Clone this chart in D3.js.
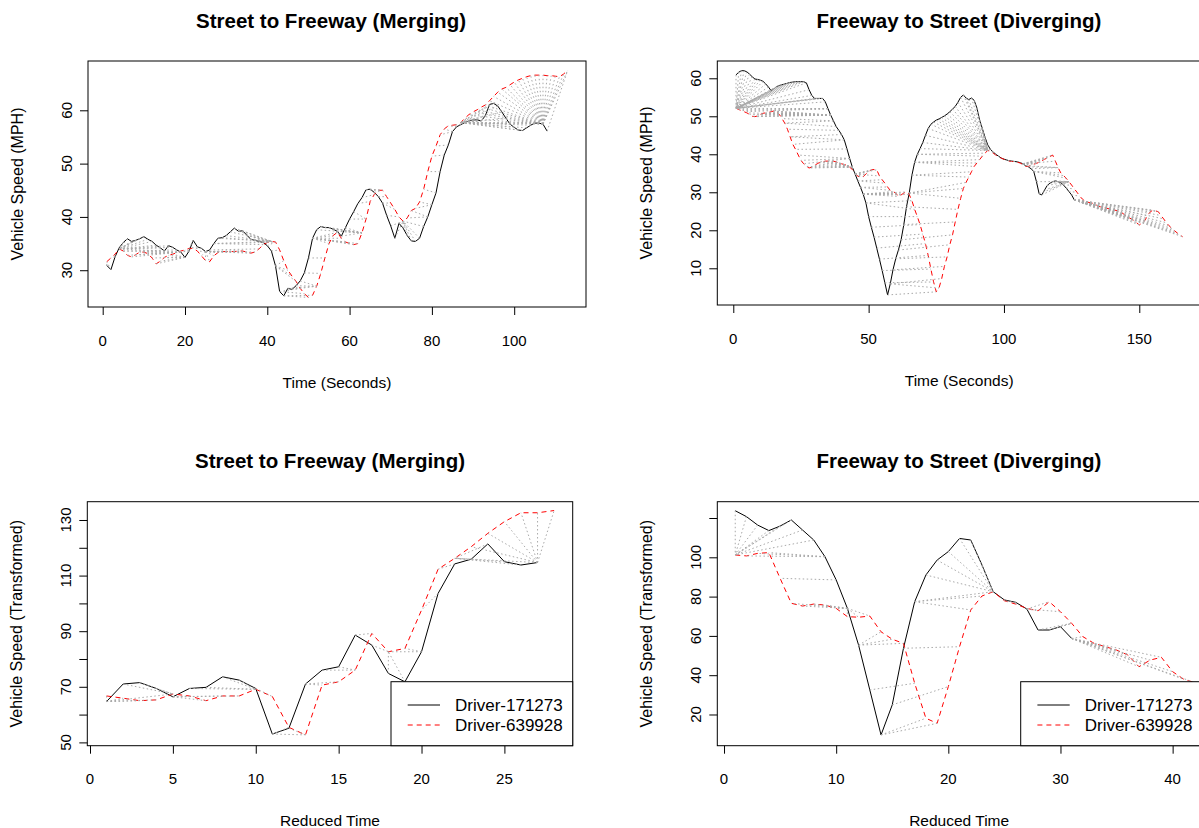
<!DOCTYPE html>
<html><head><meta charset="utf-8">
<script src="https://cdn.jsdelivr.net/npm/d3@7"></script>
<style>body{margin:0;background:#fff} text{font-family:"Liberation Sans",Arial,sans-serif;fill:#000}</style>
</head><body>
<svg id="c" width="1199" height="828"></svg>
<script>
// ---------- data ----------
const seriesNames = ["Driver-171273", "Driver-639928"];
const panelTitles = ["Street to Freeway (Merging)", "Freeway to Street (Diverging)", "Street to Freeway (Merging)", "Freeway to Street (Diverging)"];
const xLabels = ["Time (Seconds)", "Time (Seconds)", "Reduced Time", "Reduced Time"];
const yLabels = ["Vehicle Speed (MPH)", "Vehicle Speed (MPH)", "Vehicle Speed (Transformed)", "Vehicle Speed (Transformed)"];

const mergeBlack = [30.9,30.1,32.5,34.2,35.2,35.9,35.4,35.6,35.9,36.3,35.8,35.4,34.7,34.2,33.6,34.6,34.3,33.8,33.4,32.4,
33.6,35.6,34.4,34.1,33.5,33.8,35.0,36.0,36.1,36.5,37.2,37.9,37.3,37.4,36.6,35.8,35.6,35.4,35.2,34.6,
33.6,30.8,26.0,25.2,26.6,26.4,27.1,28.0,29.5,32.3,36.0,37.6,38.2,38.0,38.0,37.7,37.3,36.4,38.0,39.6,
41.0,42.5,43.6,45.1,45.2,44.6,43.8,42.6,40.3,38.3,36.0,38.8,37.9,36.5,35.5,35.4,36.0,38.2,40.0,42.3,
44.5,48.5,51.6,53.5,56.0,56.9,57.3,57.7,58.0,58.2,58.2,58.0,59.0,61.1,61.3,60.8,59.7,58.5,57.4,56.8,
56.3,56.2,56.7,57.2,57.6,57.6,57.4,56.1];
const mergeRed = [31.6,32.3,33.0,34.0,33.6,32.8,32.5,32.9,33.4,33.4,33.1,32.3,31.2,31.7,32.4,32.8,33.0,33.3,33.6,33.8,
34.1,34.1,33.6,32.7,31.8,31.6,32.7,33.3,33.5,33.5,33.5,33.5,33.6,33.6,33.4,33.2,33.4,34.0,34.8,35.2,
35.4,35.3,33.8,31.8,30.0,28.9,27.9,26.6,25.6,24.9,25.3,27.0,29.4,32.3,35.0,36.5,37.1,36.0,35.3,35.0,
34.8,35.0,37.0,39.6,42.9,44.2,45.0,45.0,43.8,42.6,41.4,40.0,39.2,39.8,41.2,41.6,42.8,45.2,48.5,51.4,
53.3,55.4,56.5,57.1,57.2,57.3,57.7,58.5,59.2,59.7,60.1,60.6,61.0,61.8,62.6,63.4,64.0,64.3,64.8,65.3,
65.7,66.0,66.3,66.5,66.6,66.6,66.6,66.5,66.5,66.4,66.3,66.8,67.5];

const divergeBlack = [60.9,61.6,62.0,62.0,61.7,61.1,60.4,59.8,59.7,59.5,59.2,58.5,57.7,56.7,57.2,57.8,58.1,58.3,58.5,58.7,
58.9,59.0,59.1,59.1,59.1,59.1,58.8,57.0,55.5,54.7,54.7,54.7,54.7,53.8,52.0,50.3,48.8,47.3,46.3,45.2,
43.8,41.4,38.9,36.6,34.8,33.0,31.3,29.5,27.2,23.6,20.8,18.2,15.3,12.4,9.4,6.2,3.0,5.9,9.6,12.5,
14.8,17.5,21.5,26.2,29.8,34.5,37.9,40.0,41.5,43.1,45.0,46.8,47.9,48.5,49.0,49.3,49.7,50.1,50.6,51.2,
51.9,52.6,53.7,55.0,55.6,54.8,54.4,54.8,54.2,52.2,49.0,46.8,44.5,42.5,41.3,40.6,40.0,39.5,39.0,38.7,
38.5,38.3,38.2,38.1,38.0,37.8,37.5,37.0,36.7,36.2,35.5,32.8,29.6,29.3,30.6,31.8,32.4,32.8,33.0,32.8,
32.5,31.9,31.1,30.2,29.3,28.0];
const divergeRed = [52.1,51.8,51.5,51.2,50.9,50.5,50.0,49.9,50.1,50.5,50.8,50.9,51.0,51.2,51.4,51.3,50.5,49.4,48.2,46.6,
44.6,42.6,41.3,39.8,38.4,37.5,36.8,36.4,36.6,37.1,37.5,37.9,38.0,38.2,38.2,38.2,38.2,38.0,37.7,37.5,
37.3,37.1,36.6,36.0,35.2,34.2,34.0,34.1,34.8,35.5,35.9,36.0,35.9,34.3,33.3,32.4,31.4,30.5,30.2,29.8,
28.9,29.3,29.8,30.1,29.4,27.8,25.5,23.6,21.5,19.0,16.5,13.4,9.8,6.4,3.8,4.8,7.3,10.5,13.0,16.2,
18.8,22.2,25.5,28.4,31.0,32.6,34.0,35.4,36.8,37.7,38.6,39.5,40.3,41.0,40.8,40.3,39.8,39.3,39.0,38.7,
38.4,38.2,38.1,38.1,37.9,37.7,37.3,36.8,36.8,37.1,37.4,37.6,37.9,38.3,38.7,39.0,39.4,39.8,38.2,36.5,
35.1,34.4,33.7,32.8,31.9,30.9,30.0,29.0,28.2,27.6,27.4,27.2,27.1,26.7,26.3,26.1,25.9,25.8,25.6,25.4,
25.3,25.1,24.9,24.4,23.8,23.4,23.0,22.6,22.0,21.4,21.9,22.5,23.8,24.8,25.3,25.1,24.9,23.9,23.0,22.0,
21.2,20.5,19.9,19.3,18.8,18.3];

const mergeBlackReduced = [64.7,71.0,71.5,69.4,66.4,69.4,69.8,73.6,72.4,69.4,53.0,55.1,71.0,76.0,77.2,88.6,85.0,74.8,71.8,82.6,
103.6,114.2,115.9,121.4,115.0,113.8,114.7];
const mergeRedReduced = [66.7,65.9,65.0,65.3,67.4,66.7,65.0,66.7,66.7,69.1,66.5,55.4,52.7,70.6,71.8,76.0,89.2,82.6,83.8,97.6,
112.3,116.2,120.4,125.2,129.4,132.6,132.6,133.4];
const divergeBlackReduced = [123.7,120.7,116.4,113.6,115.9,119.0,113.9,108.8,100.3,88.5,74.0,55.3,32.5,9.6,24.9,53.7,77.4,91.0,98.6,102.9,
109.6,108.8,96.1,82.5,78.3,77.1,73.7,63.0,63.0,64.7,58.7];
const divergeRedReduced = [101.2,100.7,102.0,102.4,89.3,76.6,75.2,76.2,75.7,74.0,69.8,69.5,70.1,62.1,58.3,56.2,35.9,18.1,15.5,34.2,
54.5,73.2,80.3,82.5,77.9,76.2,74.0,72.8,77.4,72.3,66.4,59.6,56.2,54.5,52.8,50.3,44.3,47.7,49.1,41.8,
37.9,36.2];

const xTicks = [[0,20,40,60,80,100],[0,50,100,150],[0,5,10,15,20,25],[0,10,20,30,40]];
const yTicks = [[30,40,50,60],[10,20,30,40,50,60],[50,60,70,80,90,100,110,120,130],[20,40,60,80,100,120]];
const yTickLabels = [[30,40,50,60],[10,20,30,40,50,60],[50,70,90,110,130],[20,40,60,80,100]];

// ---------- layout ----------
const layout = [
  {box:[88,586,61,307],   xd:[-3.57,117.45], yd:[23.1,69.25], tcx:331},
  {box:[717.3,1201,61,305], xd:[-5.91,172.8], yd:[0.34,64.55], tcx:959},
  {box:[87.3,572.7,501.7,745.7], xd:[-0.163,29.12], yd:[48.81,136.58], legend:true, tcx:330},
  {box:[717.3,1213,501.7,745.7], xd:[-0.6,43.6], yd:[4.12,128.3], legend:true, tcx:959}
];
const seriesData = [[mergeBlack,mergeRed],[divergeBlack,divergeRed],[mergeBlackReduced,mergeRedReduced],[divergeBlackReduced,divergeRedReduced]];

// DTW (symmetric2 step pattern) to obtain matching pairs
function dtw(a,b){
  const n=a.length,m=b.length;
  const g=Array.from({length:n},()=>new Float64Array(m).fill(Infinity));
  const d=(i,j)=>Math.abs(a[i]-b[j]);
  for(let i=0;i<n;i++)for(let j=0;j<m;j++){
    if(i===0&&j===0){g[0][0]=d(0,0);continue;}
    let best=Infinity;const c=d(i,j);
    if(i>0&&j>0)best=Math.min(best,g[i-1][j-1]+2*c);
    if(i>0)best=Math.min(best,g[i-1][j]+c);
    if(j>0)best=Math.min(best,g[i][j-1]+c);
    g[i][j]=best;
  }
  let i=n-1,j=m-1;const path=[[i,j]];
  while(i>0||j>0){
    const c=d(i,j);
    const opts=[];
    if(i>0&&j>0)opts.push([g[i-1][j-1]+2*c,i-1,j-1]);
    if(i>0)opts.push([g[i-1][j]+c,i-1,j]);
    if(j>0)opts.push([g[i][j-1]+c,i,j-1]);
    opts.sort((p,q)=>p[0]-q[0]);
    i=opts[0][1];j=opts[0][2];path.push([i,j]);
  }
  return path.reverse();
}

const svg=d3.select("#c");
svg.append("rect").attr("width",1199).attr("height",828).attr("fill","#fff");

layout.forEach((L,k)=>{
  const [x0,x1,y0,y1]=L.box;
  const x=d3.scaleLinear().domain(L.xd).range([x0,x1]);
  const y=d3.scaleLinear().domain(L.yd).range([y1,y0]);
  const g=svg.append("g");
  const clipId="clip"+k;
  g.append("clipPath").attr("id",clipId).append("rect").attr("x",x0).attr("y",y0).attr("width",x1-x0).attr("height",y1-y0);
  const plot=g.append("g").attr("clip-path",`url(#${clipId})`);
  const [A,B]=seriesData[k];
  const line=d3.line().x((d,i)=>x(i+1)).y(d=>y(d));
  plot.append("path").datum(A).attr("d",line).attr("fill","none").attr("stroke","#000").attr("stroke-width",1);
  plot.append("path").datum(B).attr("d",line).attr("fill","none").attr("stroke","#ff0000").attr("stroke-width",1).attr("stroke-dasharray","5,4");
  const path=dtw(A,B);
  plot.selectAll("line.m").data(path).enter().append("line")
    .attr("x1",p=>x(p[0]+1)).attr("y1",p=>y(A[p[0]]))
    .attr("x2",p=>x(p[1]+1)).attr("y2",p=>y(B[p[1]]))
    .attr("stroke","#a9a9a9").attr("stroke-width",1).attr("stroke-dasharray","1.5,2.5");
  // box
  g.append("rect").attr("x",x0).attr("y",y0).attr("width",x1-x0).attr("height",y1-y0)
    .attr("fill","none").attr("stroke","#000").attr("stroke-width",1);
  // x axis
  const xa=d3.axisBottom(x).tickValues(xTicks[k]).tickSize(8).tickPadding(0).tickFormat(()=>"");
  const gx=g.append("g").attr("transform",`translate(0,${y1})`).call(xa);
  gx.select(".domain").remove();
  gx.selectAll(".tick line").attr("stroke","#000");
  g.selectAll("text.xt").data(xTicks[k]).enter().append("text")
    .attr("x",d=>x(d)).attr("y",y1+33).attr("text-anchor","middle").attr("dominant-baseline","central")
    .style("font-size","15px").text(d=>d);
  // y axis
  const ya=d3.axisLeft(y).tickValues(yTicks[k]).tickSize(8).tickFormat(()=>"");
  const gy=g.append("g").attr("transform",`translate(${x0},0)`).call(ya);
  gy.select(".domain").remove();
  gy.selectAll(".tick line").attr("stroke","#000");
  g.selectAll("text.yt").data(yTickLabels[k]).enter().append("text")
    .attr("transform",d=>`translate(${x0-22},${y(d)}) rotate(-90)`)
    .attr("text-anchor","middle").attr("dominant-baseline","central")
    .style("font-size","15px").text(d=>d);
  // titles
  const cx=(x0+Math.min(x1,1201))/2;
  g.append("text").attr("x",L.tcx).attr("y",y0-41).attr("text-anchor","middle").attr("dominant-baseline","central")
    .style("font-size","20.5px").style("font-weight","bold").text(panelTitles[k]);
  g.append("text").attr("x",cx).attr("y",y1+75).attr("text-anchor","middle").attr("dominant-baseline","central")
    .style("font-size","15.5px").text(xLabels[k]);
  g.append("text").attr("transform",`translate(${x0-71},${(y0+y1)/2}) rotate(-90)`)
    .attr("text-anchor","middle").attr("dominant-baseline","central")
    .style("font-size","16px").text(yLabels[k]);
  // legend
  if(L.legend){
    const lx=k===2?391:1020.7, ly=681.7;
    const lg=g.append("g");
    lg.append("rect").attr("x",lx).attr("y",ly).attr("width",x1-lx).attr("height",y1-ly)
      .attr("fill","#fff").attr("stroke","#000").attr("stroke-width",1);
    const rows=[{c:"#000",dash:null},{c:"#ff0000",dash:"5,4"}];
    rows.forEach((r,ri)=>{
      const yy=ly+23.3+ri*20;
      lg.append("line").attr("x1",lx+16.7).attr("x2",lx+49).attr("y1",yy).attr("y2",yy)
        .attr("stroke",r.c).attr("stroke-width",1).attr("stroke-dasharray",r.dash);
      lg.append("text").attr("x",lx+64).attr("y",yy).attr("dominant-baseline","central")
        .style("font-size","17px").text(seriesNames[ri]);
    });
  }
});
</script>
</body></html>
